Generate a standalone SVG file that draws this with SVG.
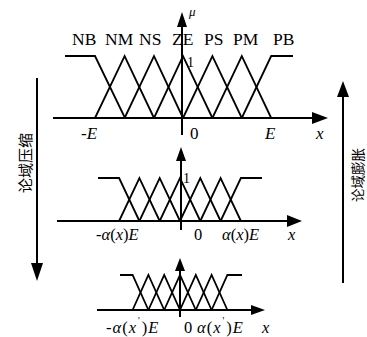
<svg xmlns="http://www.w3.org/2000/svg" width="367" height="337" viewBox="0 0 367 337">
<style>
.ln{stroke:#000;stroke-width:1.8;fill:none;stroke-linejoin:miter}
.ax{stroke:#000;stroke-width:2;fill:none}
.hd{fill:#000;stroke:none}
.t{font-family:"Liberation Serif","Times New Roman",serif;fill:#000}
.i{font-style:italic}
.cjk{font-family:"Noto Sans CJK SC","Noto Sans CJK JP",sans-serif;fill:#000}
</style>
<rect width="367" height="337" fill="#fff"/>
<g id="connectors">
  <!-- left arrow: domain compression -->
  <line class="ax" x1="37" y1="78" x2="37" y2="266"/>
  <polygon class="hd" points="37,281 31,263 43,263"/>
  <!-- right arrow: domain expansion -->
  <line class="ax" x1="343" y1="283" x2="343" y2="95"/>
  <polygon class="hd" points="343,81 337,97 349,97"/>
</g>
<g id="label-compress">
  <text class="cjk" font-size="15" text-anchor="middle" dominant-baseline="central" transform="translate(24,163) rotate(-90)">论域压缩</text>
</g>
<g id="label-expand">
  <text class="cjk" font-size="13.5" text-anchor="middle" dominant-baseline="central" transform="translate(357,175) rotate(-90)">论域膨胀</text>
</g>
<g id="plot-top">
  <line class="ax" x1="53" y1="118" x2="316" y2="118"/>
  <polygon class="hd" points="328,118 312,112 312,124"/>
  <line class="ax" x1="182" y1="135" x2="182" y2="25"/>
  <polygon class="hd" points="182,12 177,27 187,27"/>
  <polyline class="ln" points="65,56 95,56 125,118"/>
  <polyline class="ln" points="95,118 124.6,56 154,118"/>
  <polyline class="ln" points="124.6,118 154,56 183,118"/>
  <polyline class="ln" points="154,118 183,56 212.4,118"/>
  <polyline class="ln" points="183,118 212.4,56 241.8,118"/>
  <polyline class="ln" points="212.4,118 241.8,56 271.2,118"/>
  <polyline class="ln" points="241.8,118 271.2,56 293,56"/>
  <g class="t" font-size="17.5">
    <text x="72" y="45">NB</text>
    <text x="105" y="45">NM</text>
    <text x="139" y="45">NS</text>
    <text x="172" y="45">ZE</text>
    <text x="204" y="45">PS</text>
    <text x="233" y="45">PM</text>
    <text x="273" y="45">PB</text>
  </g>
  <text class="t i" x="189" y="16" font-size="13">μ</text>
  <text class="t" x="187" y="67" font-size="14">1</text>
  <g class="t" font-size="17">
    <text class="i" x="81" y="139">-E</text>
    <text x="190" y="139">0</text>
    <text class="i" x="265" y="139">E</text>
    <text class="i" x="316" y="139">x</text>
  </g>
</g>
<g id="plot-middle">
  <line class="ax" x1="57" y1="221" x2="290" y2="221"/>
  <polygon class="hd" points="302,221 287,215 287,227"/>
  <line class="ax" x1="181" y1="230" x2="181" y2="158"/>
  <polygon class="hd" points="181,147 176,161 186,161"/>
  <polyline class="ln" points="98,178 119.1,178 139.4,221"/>
  <polyline class="ln" points="119.1,221 139.4,178 159.7,221"/>
  <polyline class="ln" points="139.4,221 159.7,178 180,221"/>
  <polyline class="ln" points="159.7,221 180,178 200.3,221"/>
  <polyline class="ln" points="180,221 200.3,178 220.6,221"/>
  <polyline class="ln" points="200.3,221 220.6,178 240.9,221"/>
  <polyline class="ln" points="220.6,221 240.9,178 262,178"/>
  <text class="t" x="183" y="183" font-size="14">1</text>
  <g class="t" font-size="16.5">
    <text x="96" y="240">-<tspan class="i">α</tspan>(<tspan class="i">x</tspan>)<tspan class="i">E</tspan></text>
    <text x="194" y="240">0</text>
    <text x="222" y="240"><tspan class="i">α</tspan>(<tspan class="i">x</tspan>)<tspan class="i">E</tspan></text>
    <text class="i" x="288" y="240">x</text>
  </g>
</g>
<g id="plot-bottom">
  <line class="ax" x1="97" y1="310" x2="254" y2="310"/>
  <polygon class="hd" points="265,310 251,305 251,315"/>
  <line class="ax" x1="180" y1="317" x2="180" y2="268"/>
  <polygon class="hd" points="180,258 175,271 185,271"/>
  <polyline class="ln" points="120,275 132.6,275 148.4,310"/>
  <polyline class="ln" points="132.6,310 148.4,275 164.2,310"/>
  <polyline class="ln" points="148.4,310 164.2,275 180,310"/>
  <polyline class="ln" points="164.2,310 180,275 195.8,310"/>
  <polyline class="ln" points="180,310 195.8,275 211.6,310"/>
  <polyline class="ln" points="195.8,310 211.6,275 227.4,310"/>
  <polyline class="ln" points="211.6,310 227.4,275 242,275"/>
  <g class="t" font-size="16.5">
    <text x="106" y="333">-<tspan class="i" dx="1">α</tspan><tspan dx="1">(</tspan><tspan class="i" dx="1">x</tspan><tspan font-size="10" dx="2" dy="-9">'</tspan><tspan dx="2" dy="9">)</tspan><tspan class="i" dx="1">E</tspan></text>
    <text x="184" y="333">0</text>
    <text x="197" y="333"><tspan class="i">α</tspan><tspan dx="1">(</tspan><tspan class="i" dx="1">x</tspan><tspan font-size="10" dx="2" dy="-9">'</tspan><tspan dx="2" dy="9">)</tspan><tspan class="i" dx="1">E</tspan></text>
    <text class="i" x="262" y="333">x</text>
  </g>
</g>
</svg>
